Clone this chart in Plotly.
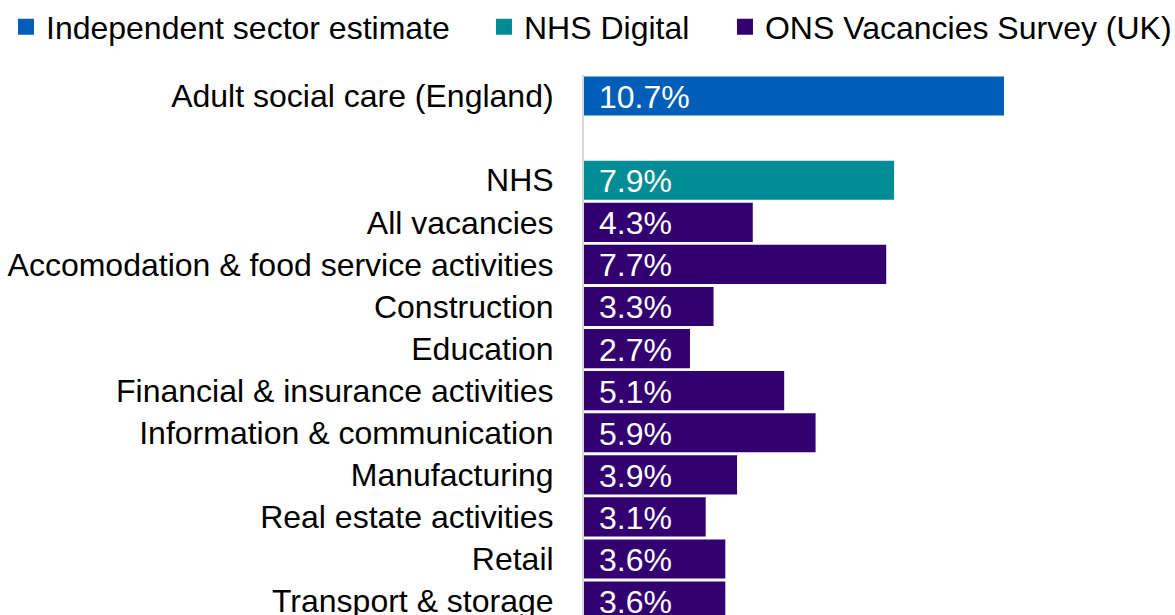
import plotly.graph_objects as go

# Vacancy rates by sector
categories = [
    "Adult social care (England)",
    " ",
    "NHS",
    "All vacancies",
    "Accomodation & food service activities",
    "Construction",
    "Education",
    "Financial & insurance activities",
    "Information & communication",
    "Manufacturing",
    "Real estate activities",
    "Retail",
    "Transport & storage",
]

independent_cats = ["Adult social care (England)"]
independent_vals = [10.7]

nhs_cats = ["NHS"]
nhs_vals = [7.9]

ons_cats = [
    "All vacancies",
    "Accomodation & food service activities",
    "Construction",
    "Education",
    "Financial & insurance activities",
    "Information & communication",
    "Manufacturing",
    "Real estate activities",
    "Retail",
    "Transport & storage",
]
ons_vals = [4.3, 7.7, 3.3, 2.7, 5.1, 5.9, 3.9, 3.1, 3.6, 3.6]

series = [
    ("Independent sector estimate", independent_cats, independent_vals, "#005EB8"),
    ("NHS Digital", nhs_cats, nhs_vals, "#008C95"),
    ("ONS Vacancies Survey (UK)", ons_cats, ons_vals, "#330072"),
]

# left edge (container fraction) of each single-entry legend across the top
legend_x = [0.0051, 0.4119, 0.617]

FONT = "Liberation Sans, Arial, sans-serif"

fig = go.Figure()
annotations = []
legend_layouts = {}
for i, (name, cats, vals, color) in enumerate(series):
    legend_id = "legend" if i == 0 else f"legend{i + 1}"
    fig.add_trace(go.Bar(
        name=name,
        x=vals,
        y=cats,
        orientation="h",
        marker=dict(color=color, line=dict(width=0)),
        showlegend=False,
        hoverinfo="x+y",
    ))
    # legend entry with a larger square swatch
    fig.add_trace(go.Scatter(
        name=name,
        x=[None], y=[None],
        mode="markers",
        marker=dict(symbol="square", size=16, color=color),
        showlegend=True,
        legend=legend_id,
        hoverinfo="skip",
    ))
    legend_layouts[legend_id] = dict(
        orientation="h",
        x=legend_x[i], xref="container", xanchor="left",
        y=0.956, yref="container", yanchor="middle",
        font=dict(family=FONT, size=32, color="black"),
        bgcolor="rgba(0,0,0,0)",
    )
    for c, v in zip(cats, vals):
        annotations.append(dict(
            x=0, y=c, xref="x", yref="y",
            text=f"{v}%", showarrow=False,
            xanchor="left", yanchor="middle", xshift=13, yshift=-1,
            font=dict(family=FONT, size=32, color="white"),
        ))

fig.update_layout(
    width=1175,
    height=615,
    margin=dict(l=584, r=120, t=75, b=0, autoexpand=False),
    paper_bgcolor="white",
    plot_bgcolor="white",
    barmode="overlay",
    bargap=0.07,
    font=dict(family=FONT, size=32, color="black"),
    showlegend=True,
    annotations=annotations,
    **legend_layouts,
)

fig.update_xaxes(
    range=[0, 12],
    visible=False,
    showgrid=False,
    zeroline=False,
)

fig.update_yaxes(
    type="category",
    categoryorder="array",
    categoryarray=categories,
    range=[12.33, -0.5],
    showgrid=False,
    zeroline=False,
    showline=True,
    linecolor="#D9D9D9",
    linewidth=2,
    ticks="",
    ticklabelstandoff=22,
    tickfont=dict(family=FONT, size=32, color="black"),
)

fig.write_html("out.html")
